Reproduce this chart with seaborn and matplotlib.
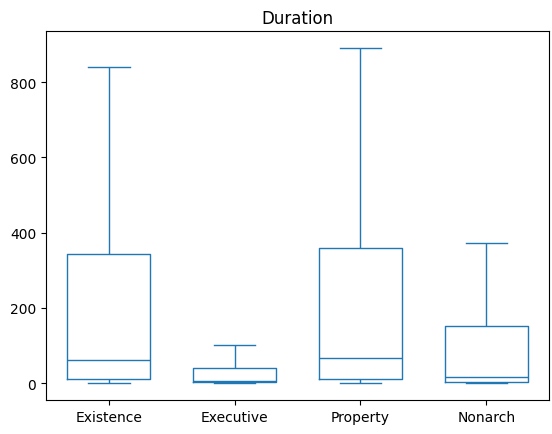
import pandas as pd
import matplotlib
matplotlib.use("Agg")
import matplotlib.pyplot as plt
import seaborn as sns

# five-number summaries (min, q1, median, q3, max)
categories = ["Existence", "Executive", "Property", "Nonarch"]
existence = [0, 10, 62, 342, 840]
executive = [0, 2, 5, 40, 100]
property_ = [0, 10, 67, 360, 890]
nonarch = [0, 2, 15, 152, 373]

df = pd.DataFrame({
    "Existence": existence,
    "Executive": executive,
    "Property": property_,
    "Nonarch": nonarch,
}).melt(var_name="group", value_name="duration")

fig, ax = plt.subplots(figsize=(5.52, 4.35), dpi=100)
sns.boxplot(data=df, x="group", y="duration", order=categories,
            whis=(0, 100), fill=False, color="#1f77b4", width=0.66,
            linewidth=1, ax=ax)
ax.set_title("Duration")
ax.set_xlabel("")
ax.set_ylabel("")
ax.set_ylim(-45, 935)
ax.set_yticks([0, 200, 400, 600, 800])
plt.subplots_adjust(left=0.083, right=0.995, top=0.926, bottom=0.078)

plt.savefig("out.png")
